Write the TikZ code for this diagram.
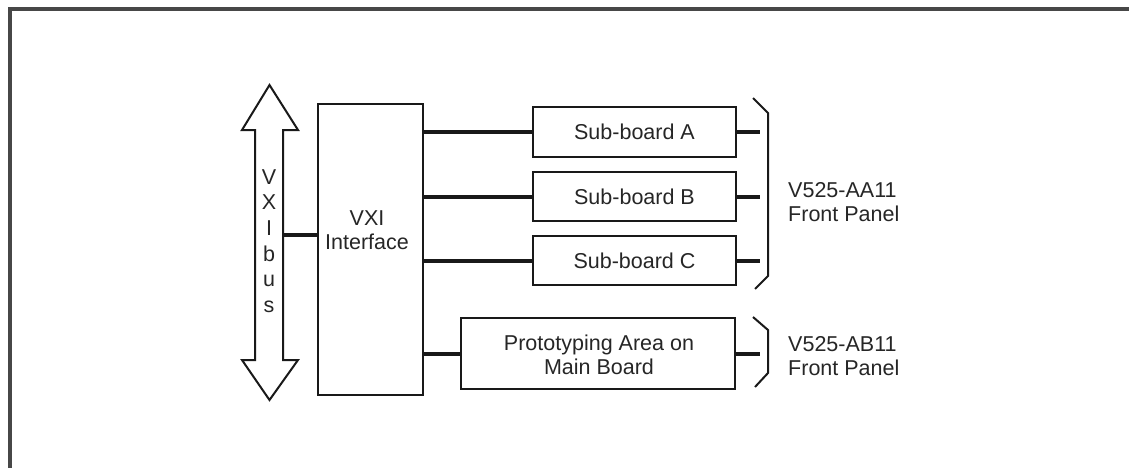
\documentclass[tikz,border=0pt]{standalone}
\usepackage{fontspec}
\setmainfont{Liberation Sans}
\begin{document}
\begin{tikzpicture}[x=1pt,y=-1pt,
  box/.style={draw=black!90, line width=2pt, inner sep=0pt, fill=white},
  wire/.style={line width=4pt, draw=black!90},
  brk/.style={line width=2pt, draw=black!90},
  lbl/.style={text=black!85, font=\fontsize{21.5}{24}\selectfont, align=center, inner sep=0pt},
  side/.style={text=black!85, font=\fontsize{21.5}{24}\selectfont, align=left, inner sep=0pt, anchor=west}]
\useasboundingbox (0,0) rectangle (1129,467);
% frame
\draw[line width=4pt, draw=black!72] (9.5,470) -- (9.5,9) -- (1135,9);
% VXI bus double arrow
\draw[line width=2pt, draw=black!90, fill=white, line join=miter]
  (269.5,85) -- (298,130) -- (283,130) -- (283,360) -- (298,360) -- (269.5,400)
  -- (242,360) -- (255,360) -- (255,130) -- (242,130) -- cycle;
\node[lbl, font=\fontsize{21.5}{25.6}\selectfont] (bus) at (269,241) {V\\X\\I\\b\\u\\s};
\coordinate (busR) at (283,235);
% boxes
\node[box, minimum width=105pt, minimum height=291pt] (vxi) at (370.5,249.5) {};
\node[lbl] (vxit) at (367,230) {VXI\\Interface};
\node[box, minimum width=203pt, minimum height=50pt] (A) at (634.5,131.5) {};
\node[lbl] at (A) {Sub-board A};
\node[box, minimum width=203pt, minimum height=49pt] (B) at (634.5,196.5) {};
\node[lbl] at (B) {Sub-board B};
\node[box, minimum width=203pt, minimum height=49pt] (C) at (634.5,260.5) {};
\node[lbl] at (C) {Sub-board C};
\node[box, minimum width=274pt, minimum height=71pt] (P) at (598,353.5) {};
\node[lbl] at (599,355) {Prototyping Area on\\Main Board};
% connectors
\draw[wire] (busR) -- (vxi.west |- busR);
\draw[wire] (vxi.east |- A.west) -- (A.west);
\draw[wire] (vxi.east |- B.west) -- (B.west);
\draw[wire] (vxi.east |- C.west) -- (C.west);
\draw[wire] (vxi.east |- P.west) -- (P.west);
\coordinate (sa) at (760,131.5);
\coordinate (sb) at (760,196.5);
\coordinate (sc) at (760,260.5);
\coordinate (sp) at (760,353.5);
\draw[wire] (A.east) -- (sa);
\draw[wire] (B.east) -- (sb);
\draw[wire] (C.east) -- (sc);
\draw[wire] (P.east) -- (sp);
% brackets
\draw[brk] (753,98) -- (768,113) -- (768,276) -- (755,289);
\draw[brk] (753,317) -- (768,330) -- (768,373) -- (755,387);
% panel labels
\node[side] (paa) at (788,202.5) {V525-AA11\\Front Panel};
\node[side] (pab) at (788,356) {V525-AB11\\Front Panel};
\end{tikzpicture}
\end{document}
